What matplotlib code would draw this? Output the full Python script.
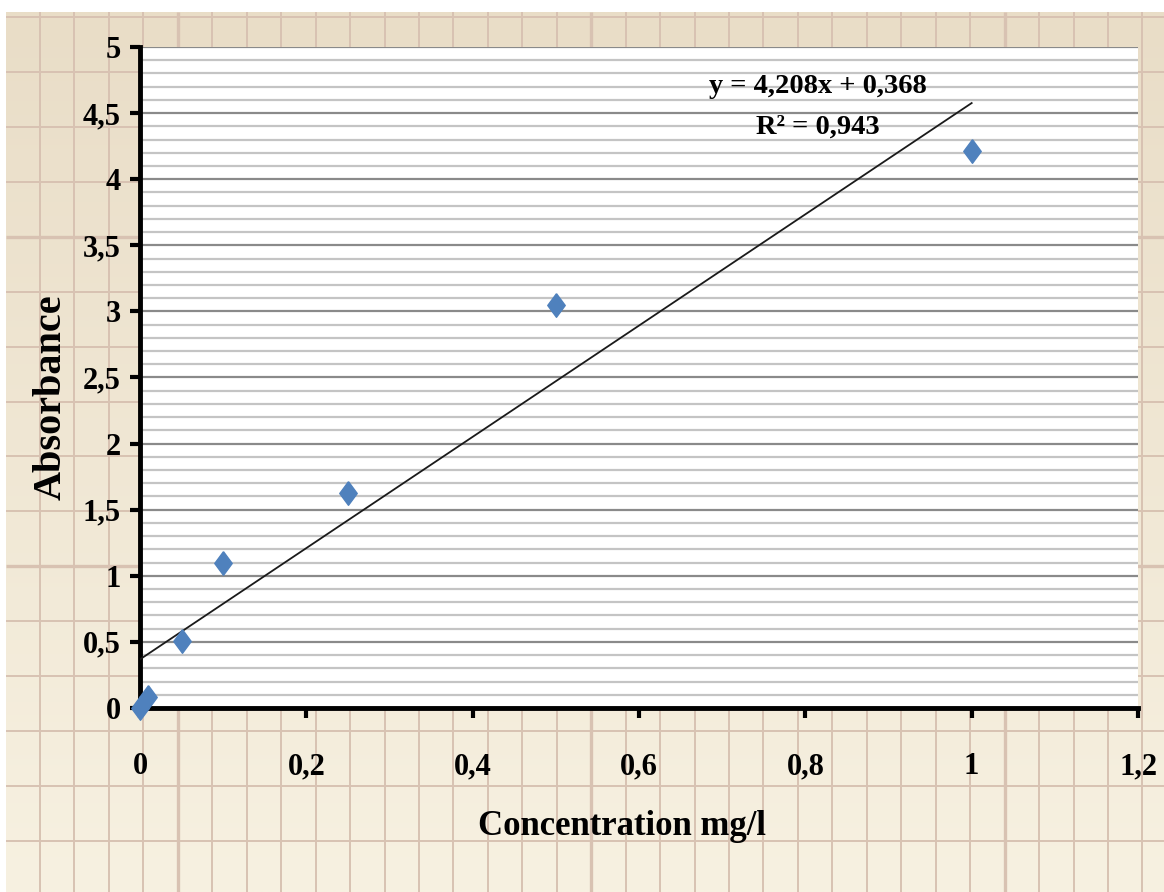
import numpy as np
import matplotlib
matplotlib.use("Agg")
import matplotlib.pyplot as plt
from matplotlib.ticker import MultipleLocator, FuncFormatter

# ---- data ----
concentration = [0.0, 0.01, 0.05, 0.1, 0.25, 0.5, 1.0]
absorbance = [0.0, 0.08, 0.51, 1.10, 1.63, 3.05, 4.21]
slope = 4.208
intercept = 0.368
r_squared = 0.943
x_ticks = [0, 0.2, 0.4, 0.6, 0.8, 1.0, 1.2]
y_ticks = [0, 0.5, 1, 1.5, 2, 2.5, 3, 3.5, 4, 4.5, 5]

W, H = 1164, 892
DPI = 100
FONT = "Liberation Serif"

fig = plt.figure(figsize=(W / DPI, H / DPI), dpi=DPI)
fig.patch.set_facecolor("white")

# ---- decorative paper background ----
bg = fig.add_axes([0, 0, 1, 1], zorder=-5)
bg.set_xlim(0, W)
bg.set_ylim(H, 0)
bg.axis("off")
top_c = np.array([233, 221, 199]) / 255
bot_c = np.array([247, 241, 225]) / 255
t = np.linspace(0, 1, 256)[:, None, None]
grad = top_c * (1 - t) + bot_c * t
grad = np.repeat(grad, 2, axis=1)
bg.imshow(grad, extent=[6, W, H, 12], aspect="auto", interpolation="bilinear", zorder=0)
line_c = "#d8c2b2"
for k in range(0, 33):
    xv = 40 + k * 34.45
    lw = 2.4 if k in (4, 16, 28) else 1.4
    bg.plot([xv, xv], [12, H], color=line_c, lw=lw, zorder=1, solid_capstyle="butt")
for k in range(0, 17):
    yv = 17 + k * 54.93
    lw = 2.4 if k in (4, 10) else 1.4
    bg.plot([6, W], [yv, yv], color=line_c, lw=lw, zorder=1, solid_capstyle="butt")

# ---- main axes ----
left, right, top, bottom = 140, 1138, 47, 708
ax = fig.add_axes([left / W, 1 - bottom / H, (right - left) / W, (bottom - top) / H], zorder=2)
ax.set_facecolor("white")
ax.set_xlim(0, 1.2)
ax.set_ylim(0, 5)

ax.yaxis.set_minor_locator(MultipleLocator(0.1))
ax.set_xticks(x_ticks)
ax.set_yticks(y_ticks)

def comma_fmt(v, pos):
    s = f"{v:.1f}".rstrip("0").rstrip(".")
    return s.replace(".", ",")

ax.xaxis.set_major_formatter(FuncFormatter(comma_fmt))
ax.yaxis.set_major_formatter(FuncFormatter(comma_fmt))

ax.grid(which="minor", axis="y", color="#c4c4c4", lw=1.6)
ax.grid(which="major", axis="y", color="#8a8a8a", lw=1.6)
ax.grid(which="major", axis="x", visible=False)
ax.set_axisbelow(True)

for s in ("top", "right"):
    ax.spines[s].set_visible(False)
for s in ("left", "bottom"):
    ax.spines[s].set_linewidth(3.5)
    ax.spines[s].set_color("black")
    ax.spines[s].set_capstyle("projecting")

ax.tick_params(axis="both", which="major", direction="out", length=7, width=3,
               color="black", labelsize=22)
ax.tick_params(axis="y", which="major", pad=7)
ax.tick_params(axis="x", which="major", pad=25)
ax.tick_params(axis="both", which="minor", length=0)
for lab in ax.get_xticklabels() + ax.get_yticklabels():
    lab.set_fontfamily(FONT)
    lab.set_fontweight("bold")

# trendline
xs = np.array([0.0, max(concentration)])
ax.plot(xs, slope * xs + intercept, color="#1a1a1a", lw=1.3, zorder=3)

# data points (diamonds)
diamond = [(0, 1), (0.74, 0), (0, -1), (-0.74, 0), (0, 1)]
ax.plot(concentration, absorbance, linestyle="none", marker=diamond, markersize=17,
        color="#4f81bd", markeredgecolor="#4f81bd", zorder=5, clip_on=False)

# equation text
ax.text(0.815, 4.70, f"y = {slope:.3f}x + {intercept:.3f}".replace(".", ","),
        ha="center", va="center", fontsize=20.5, fontfamily=FONT, fontweight="bold", zorder=6)
ax.text(0.815, 4.39, f"R² = {r_squared:.3f}".replace(".", ","),
        ha="center", va="center", fontsize=20.5, fontfamily=FONT, fontweight="bold", zorder=6)

# axis labels
ax.set_xlabel("Concentration mg/l", fontsize=25, fontfamily=FONT, fontweight="bold", va="center")
ax.xaxis.set_label_coords(0.483, -0.18)
ax.set_ylabel("Absorbance", fontsize=29, fontfamily=FONT, fontweight="bold", va="center", ha="center")
ax.yaxis.set_label_coords(-0.089, 0.47)

fig.savefig("out.png", dpi=DPI)
